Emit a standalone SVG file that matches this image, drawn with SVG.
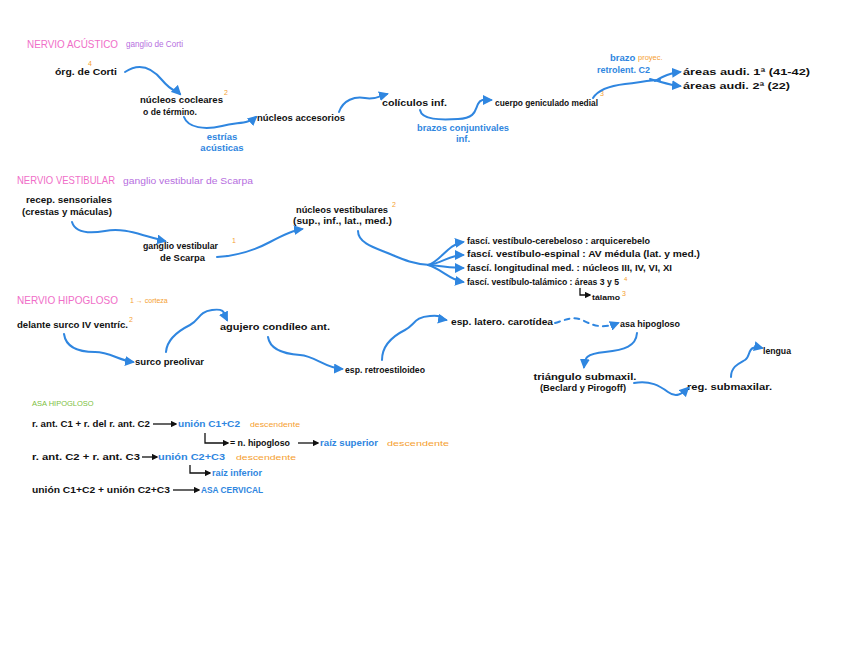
<svg xmlns="http://www.w3.org/2000/svg" width="848" height="656" viewBox="0 0 848 656">
<defs>
<marker id="ah" viewBox="0 0 10 10" refX="8" refY="5" markerWidth="5" markerHeight="5" orient="auto"><path d="M0,0 L10,5 L0,10 z" fill="#2f86e0"/></marker>
<marker id="ak" viewBox="0 0 10 10" refX="8" refY="5" markerWidth="5" markerHeight="5" orient="auto"><path d="M0,0 L10,5 L0,10 z" fill="#111"/></marker>
<style>
text{font-family:"Liberation Sans",Arial,sans-serif;font-size:9.5px;font-weight:bold;fill:#111}
.t{font-size:10.5px;fill:#f06ec8;font-weight:normal}
.p{fill:#b66ee0;font-weight:normal;font-size:8.5px}
.b{fill:#2f86e0}
.o{fill:#f5a030;font-weight:normal}
.g{fill:#7cc040;font-weight:normal;font-size:7.5px}
.s{fill:#f5a030;font-size:7px;font-weight:normal}
.c path{fill:none;stroke:#2f86e0;stroke-width:2;stroke-linecap:round}
.k path{fill:none;stroke:#111;stroke-width:1.3}
</style>
</defs>
<rect width="848" height="656" fill="#fff"/>

<g id="acustico">
<g id="h1"><text class="t" x="27" y="48" textLength="91" lengthAdjust="spacingAndGlyphs">NERVIO ACÚSTICO</text><text class="p" x="126" y="47" textLength="57" lengthAdjust="spacingAndGlyphs">ganglio de Corti</text></g>
<g id="n-organo"><text x="55" y="75" textLength="62" lengthAdjust="spacingAndGlyphs">órg. de Corti</text><text class="s" x="88" y="66">4</text></g>
<g id="n-cocleares"><text x="140" y="103" textLength="83" lengthAdjust="spacingAndGlyphs">núcleos cocleares</text><text x="143" y="115" textLength="54" lengthAdjust="spacingAndGlyphs">o de término.</text><text class="s" x="224" y="95">2</text></g>
<g id="l-estrias"><text class="b" x="222" y="140" text-anchor="middle">estrías</text><text class="b" x="222" y="151" text-anchor="middle">acústicas</text></g>
<g id="n-accesorios"><text x="257" y="121" textLength="88" lengthAdjust="spacingAndGlyphs">núcleos accesorios</text></g>
<g id="n-coliculos"><text x="382" y="106" textLength="65" lengthAdjust="spacingAndGlyphs">colículos inf.</text></g>
<g id="l-brazos"><text class="b" x="463" y="131" text-anchor="middle" textLength="92" lengthAdjust="spacingAndGlyphs">brazos conjuntivales</text><text class="b" x="463" y="142" text-anchor="middle">inf.</text></g>
<g id="n-geniculado"><text x="495" y="106" textLength="103" lengthAdjust="spacingAndGlyphs">cuerpo geniculado medial</text><text class="s" x="600" y="96">3</text></g>
<g id="l-brazo"><text class="b" x="610" y="61">brazo</text><text class="o" x="638" y="60" style="font-size:7.5px">proyec.</text><text class="b" x="597" y="73" textLength="53" lengthAdjust="spacingAndGlyphs">retrolent. C2</text></g>
<g id="n-area1"><text x="683" y="75" textLength="127" lengthAdjust="spacingAndGlyphs">áreas audi. 1ª (41-42)</text></g>
<g id="n-area2"><text x="683" y="89" textLength="107" lengthAdjust="spacingAndGlyphs">áreas audi. 2ª (22)</text></g>
</g>

<g id="vestibular">
<g id="h2"><text class="t" x="17" y="184" textLength="98" lengthAdjust="spacingAndGlyphs">NERVIO VESTIBULAR</text><text class="p" x="123" y="184" textLength="130" lengthAdjust="spacingAndGlyphs">ganglio vestibular de Scarpa</text></g>
<g id="n-recep"><text x="69" y="203" text-anchor="middle" textLength="86" lengthAdjust="spacingAndGlyphs">recep. sensoriales</text><text x="67" y="215" text-anchor="middle" textLength="90" lengthAdjust="spacingAndGlyphs">(crestas y máculas)</text></g>
<g id="n-ganglio"><text x="143" y="249" textLength="75" lengthAdjust="spacingAndGlyphs">ganglio vestibular</text><text x="160" y="261" textLength="45" lengthAdjust="spacingAndGlyphs">de Scarpa</text><text class="s" x="232" y="243">1</text></g>
<g id="n-nucleos"><text x="296" y="213" textLength="92" lengthAdjust="spacingAndGlyphs">núcleos vestibulares</text><text x="293" y="224" textLength="99" lengthAdjust="spacingAndGlyphs">(sup., inf., lat., med.)</text><text class="s" x="392" y="207">2</text></g>
<g id="n-f1"><text x="467" y="244" textLength="183" lengthAdjust="spacingAndGlyphs">fascí. vestíbulo-cerebeloso : arquicerebelo</text></g>
<g id="n-f2"><text x="467" y="257" textLength="233" lengthAdjust="spacingAndGlyphs">fascí. vestíbulo-espinal : AV médula (lat. y med.)</text></g>
<g id="n-f3"><text x="467" y="271" textLength="205" lengthAdjust="spacingAndGlyphs">fascí. longitudinal med. : núcleos III, IV, VI, XI</text></g>
<g id="n-f4"><text x="467" y="285" textLength="152" lengthAdjust="spacingAndGlyphs" style="font-size:8.5px">fascí. vestíbulo-talámico : áreas 3 y 5</text><text class="s" x="624" y="281" style="font-size:6px">4</text></g>
<g id="n-talamo"><text x="592" y="300" textLength="28" lengthAdjust="spacingAndGlyphs" style="font-size:7.5px">tálamo</text><text class="s" x="622" y="296">3</text></g>
</g>

<g id="hipogloso">
<g id="h3"><text class="t" x="17" y="304" textLength="101" lengthAdjust="spacingAndGlyphs">NERVIO HIPOGLOSO</text><text class="o" x="130" y="303" style="font-size:7px">1 → corteza</text></g>
<g id="n-delante"><text x="17" y="328" textLength="111" lengthAdjust="spacingAndGlyphs">delante surco IV ventríc.</text><text class="s" x="129" y="322">2</text></g>
<g id="n-surco"><text x="135" y="365" textLength="69" lengthAdjust="spacingAndGlyphs">surco preolivar</text></g>
<g id="n-agujero"><text x="220" y="330" textLength="110" lengthAdjust="spacingAndGlyphs">agujero condíleo ant.</text></g>
<g id="n-retro"><text x="345" y="373" textLength="80" lengthAdjust="spacingAndGlyphs">esp. retroestiloideo</text></g>
<g id="n-latero"><text x="451" y="325" textLength="102" lengthAdjust="spacingAndGlyphs">esp. latero. carotídea</text></g>
<g id="n-asa"><text x="620" y="327" textLength="60" lengthAdjust="spacingAndGlyphs">asa hipogloso</text></g>
<g id="n-triangulo"><text x="585" y="380" text-anchor="middle" textLength="103" lengthAdjust="spacingAndGlyphs">triángulo submaxil.</text><text x="583" y="391" text-anchor="middle" textLength="86" lengthAdjust="spacingAndGlyphs">(Beclard y Pirogoff)</text></g>
<g id="n-reg"><text x="687" y="390" textLength="85" lengthAdjust="spacingAndGlyphs">reg. submaxilar.</text></g>
<g id="n-lengua"><text x="763" y="354" textLength="28" lengthAdjust="spacingAndGlyphs">lengua</text></g>
</g>

<g id="asa-cervical">
<g id="h4"><text class="g" x="32" y="406">ASA HIPOGLOSO</text></g>
<g id="r1"><text x="32" y="427" textLength="118" lengthAdjust="spacingAndGlyphs">r. ant. C1 + r. del r. ant. C2</text><text class="b" x="178" y="427" textLength="62" lengthAdjust="spacingAndGlyphs">unión C1+C2</text><text class="o" x="250" y="427" textLength="50" lengthAdjust="spacingAndGlyphs" style="font-size:8px">descendente</text></g>
<g id="r2"><text x="230" y="446" textLength="60" lengthAdjust="spacingAndGlyphs">= n. hipogloso</text><text class="b" x="320" y="446" textLength="58" lengthAdjust="spacingAndGlyphs">raíz superior</text><text class="o" x="387" y="446" textLength="62" lengthAdjust="spacingAndGlyphs" style="font-size:8px">descendente</text></g>
<g id="r3"><text x="32" y="460" textLength="108" lengthAdjust="spacingAndGlyphs">r. ant. C2 + r. ant. C3</text><text class="b" x="158" y="460" textLength="67" lengthAdjust="spacingAndGlyphs">unión C2+C3</text><text class="o" x="236" y="460" textLength="60" lengthAdjust="spacingAndGlyphs" style="font-size:8px">descendente</text></g>
<g id="r4"><text class="b" x="212" y="476" textLength="50" lengthAdjust="spacingAndGlyphs">raíz inferior</text></g>
<g id="r5"><text x="32" y="493" textLength="138" lengthAdjust="spacingAndGlyphs">unión C1+C2 + unión C2+C3</text><text class="b" x="201" y="493" textLength="62" lengthAdjust="spacingAndGlyphs">ASA CERVICAL</text></g>
</g>

<g id="connectors">
<g class="c">
<path marker-end="url(#ah)" d="M125,72 C140,62 152,68 162,80 S176,90 180,94"/>
<path marker-end="url(#ah)" d="M184,117 C188,128 205,130 222,126 S248,124 256,117"/>
<path marker-end="url(#ah)" d="M339,112 C343,100 355,96 365,98 S380,96 387,94"/>
<path marker-end="url(#ah)" d="M420,110 C422,120 440,120 458,119 S475,110 478,104 S486,100 491,100"/>
<path d="M593,98 C598,90 608,86 625,84 S650,80 660,80"/>
<path marker-end="url(#ah)" d="M655,81 C664,76 670,73 680,72"/>
<path marker-end="url(#ah)" d="M650,79 C662,82 670,85 680,86"/>
<path marker-end="url(#ah)" d="M72,222 C75,232 88,234 105,231 S135,233 150,237 S160,240 165,241"/>
<path marker-end="url(#ah)" d="M217,257 C235,256 255,250 270,242 S295,230 302,229"/>
<path d="M358,231 C358,242 372,247 385,252 S410,264 430,265"/>
<path marker-end="url(#ah)" d="M428,265 C440,262 448,244 463,242"/>
<path marker-end="url(#ah)" d="M428,265 C442,263 450,255 463,255"/>
<path marker-end="url(#ah)" d="M428,265 C442,266 452,268 463,268"/>
<path marker-end="url(#ah)" d="M428,265 C440,268 450,280 463,282"/>
<path marker-end="url(#ah)" d="M64,334 C66,348 80,352 95,352 S118,360 133,362"/>
<path marker-end="url(#ah)" d="M166,352 C167,338 180,330 190,325 S198,312 212,310 S224,314 227,320"/>
<path marker-end="url(#ah)" d="M268,337 C270,350 285,354 300,355 S325,368 342,369"/>
<path marker-end="url(#ah)" d="M382,360 C382,344 395,335 405,330 S414,317 430,316 S440,319 446,320"/>
<path stroke-dasharray="5,5" marker-end="url(#ah)" d="M555,323 C565,320 573,316 582,320 S600,330 618,323"/>
<path marker-end="url(#ah)" d="M637,333 C636,346 625,350 605,352 S585,358 584,367"/>
<path marker-end="url(#ah)" d="M634,383 C650,380 660,386 668,392 S682,394 688,388"/>
<path marker-end="url(#ah)" d="M731,377 C731,366 740,363 745,360 S748,350 753,348 S758,347 762,348"/>
</g>
<g class="k">
<path marker-end="url(#ak)" d="M580,288 L580,295 L590,295"/>
<path marker-end="url(#ak)" d="M153,424 L176,424"/>
<path marker-end="url(#ak)" d="M205,433 L205,443 L228,443"/>
<path marker-end="url(#ak)" d="M298,443 L318,443"/>
<path marker-end="url(#ak)" d="M142,457 L157,457"/>
<path marker-end="url(#ak)" d="M190,465 L190,473 L210,473"/>
<path marker-end="url(#ak)" d="M173,490 L199,490"/>
</g>
</g>
</svg>
